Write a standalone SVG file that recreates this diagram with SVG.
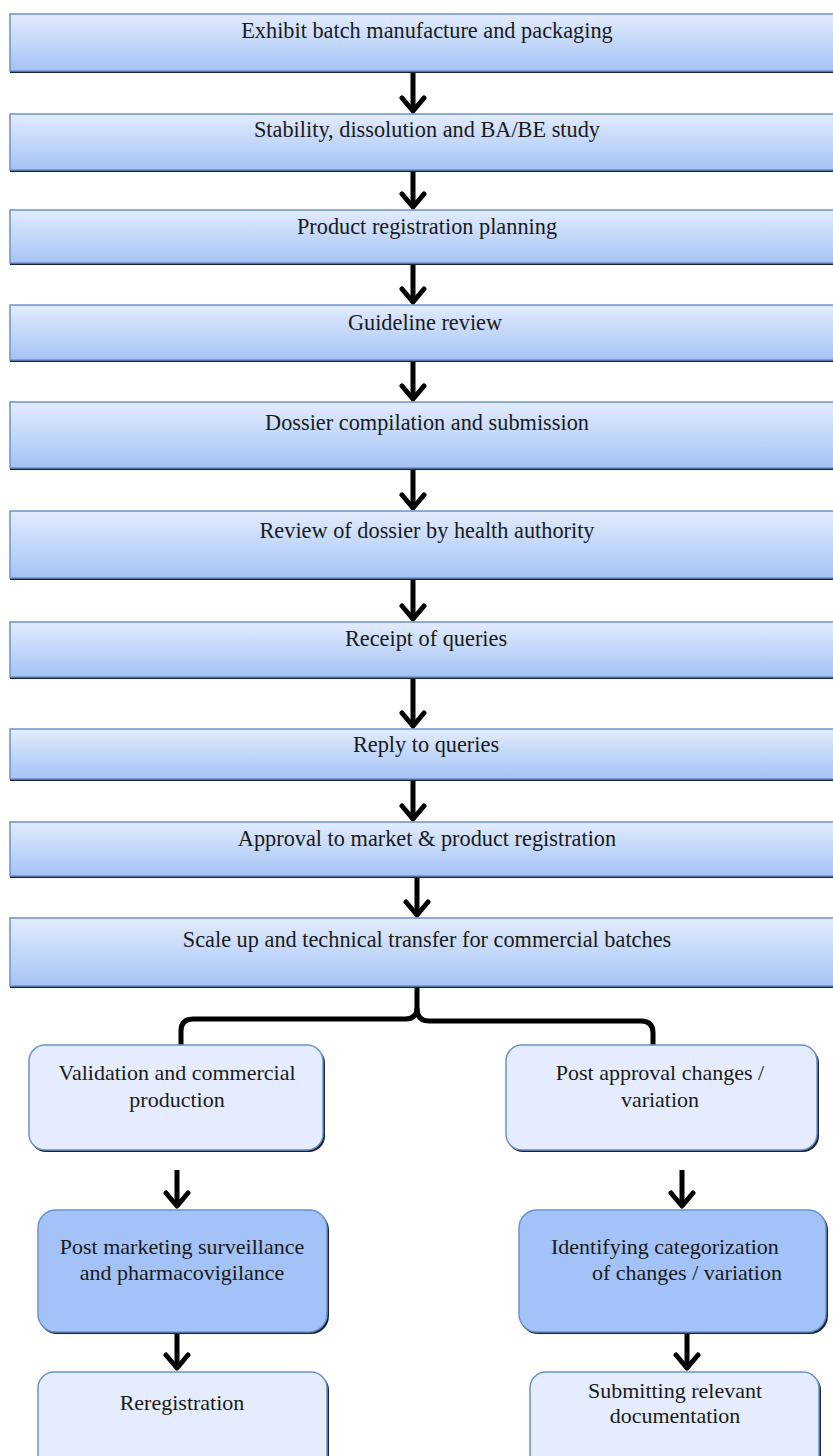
<svg xmlns="http://www.w3.org/2000/svg" width="833" height="1456" viewBox="0 0 833 1456">
  <defs>
    <linearGradient id="bandFill" x1="0" y1="0" x2="0" y2="1">
      <stop offset="0" stop-color="#e2ecfd"/>
      <stop offset="1" stop-color="#a5c3f6"/>
    </linearGradient>
    <!-- chevron head drawn along +x, rotated to follow each line -->
    <marker id="head" viewBox="0 0 20 28" refX="16" refY="14" markerWidth="20" markerHeight="28" markerUnits="userSpaceOnUse" orient="auto">
      <path d="M3,3 L16,14 L3,25" fill="none" stroke="#000" stroke-width="5" stroke-linecap="round" stroke-linejoin="round"/>
    </marker>
    <style>
      .band { fill: url(#bandFill); stroke: #6a92cc; stroke-width: 1.5; }
      .shadow { fill: #1c2430; }
      .soft { fill: #e4ecfd; stroke: #6a92cc; stroke-width: 1.5; }
      .deep { fill: #a3c2f7; stroke: #6a92cc; stroke-width: 1.5; }
      .t { font-family: "Liberation Serif", "Times New Roman", serif; fill: #1a1a1a; }
      .top { font-size: 22.3px; text-anchor: middle; }
      .low { font-size: 22px; }
      .mid { text-anchor: middle; }
      .arrow { stroke: #000; stroke-width: 5; fill: none; marker-end: url(#head); }
      .brace { stroke: #000; stroke-width: 5; fill: none; stroke-linejoin: round; }
    </style>
  </defs>

  <rect width="833" height="1456" fill="#ffffff"/>

  <!-- connectors -->
  <g id="connectors">
    <line class="arrow" x1="413" y1="72" x2="413" y2="111"/>
    <line class="arrow" x1="413" y1="171" x2="413" y2="207"/>
    <line class="arrow" x1="413" y1="264" x2="413" y2="302"/>
    <line class="arrow" x1="413" y1="361" x2="413" y2="399"/>
    <line class="arrow" x1="413" y1="469" x2="413" y2="508"/>
    <line class="arrow" x1="413" y1="579" x2="413" y2="619"/>
    <line class="arrow" x1="413" y1="678" x2="413" y2="726"/>
    <line class="arrow" x1="413" y1="780" x2="413" y2="819"/>
    <line class="arrow" x1="417" y1="877" x2="417" y2="915"/>
    <path class="brace" d="M417,987 V1008 Q417,1019 405,1019 H193 Q181,1019 181,1031 V1045"/>
    <path class="brace" d="M417,1008 Q417,1021 429,1021 H641 Q653,1021 653,1033 V1045"/>
    <line class="arrow" x1="177" y1="1170" x2="177" y2="1206"/>
    <line class="arrow" x1="682" y1="1170" x2="682" y2="1206"/>
    <line class="arrow" x1="177" y1="1333" x2="177" y2="1368"/>
    <line class="arrow" x1="687" y1="1333" x2="687" y2="1368"/>
  </g>

  <!-- full-width stage bands -->
  <g id="n1">
    <rect class="shadow" x="10" y="16" width="830" height="57"/>
    <rect class="band" x="10" y="14" width="830" height="57"/>
    <text class="t top" x="427" y="38">Exhibit batch manufacture and packaging</text>
  </g>
  <g id="n2">
    <rect class="shadow" x="10" y="116" width="830" height="56"/>
    <rect class="band" x="10" y="114" width="830" height="56"/>
    <text class="t top" x="427" y="137">Stability, dissolution and BA/BE study</text>
  </g>
  <g id="n3">
    <rect class="shadow" x="10" y="212" width="830" height="53"/>
    <rect class="band" x="10" y="210" width="830" height="53"/>
    <text class="t top" x="427" y="234">Product registration planning</text>
  </g>
  <g id="n4">
    <rect class="shadow" x="10" y="307" width="830" height="55"/>
    <rect class="band" x="10" y="305" width="830" height="55"/>
    <text class="t top" x="425" y="330">Guideline review</text>
  </g>
  <g id="n5">
    <rect class="shadow" x="10" y="404" width="830" height="66"/>
    <rect class="band" x="10" y="402" width="830" height="66"/>
    <text class="t top" x="427" y="430">Dossier compilation and submission</text>
  </g>
  <g id="n6">
    <rect class="shadow" x="10" y="513" width="830" height="67"/>
    <rect class="band" x="10" y="511" width="830" height="67"/>
    <text class="t top" x="427" y="538">Review of dossier by health authority</text>
  </g>
  <g id="n7">
    <rect class="shadow" x="10" y="624" width="830" height="55"/>
    <rect class="band" x="10" y="622" width="830" height="55"/>
    <text class="t top" x="426" y="646">Receipt of queries</text>
  </g>
  <g id="n8">
    <rect class="shadow" x="10" y="731" width="830" height="50"/>
    <rect class="band" x="10" y="729" width="830" height="50"/>
    <text class="t top" x="426" y="752">Reply to queries</text>
  </g>
  <g id="n9">
    <rect class="shadow" x="10" y="824" width="830" height="54"/>
    <rect class="band" x="10" y="822" width="830" height="54"/>
    <text class="t top" x="427" y="846">Approval to market &amp; product registration</text>
  </g>
  <g id="n10">
    <rect class="shadow" x="10" y="920" width="830" height="68"/>
    <rect class="band" x="10" y="918" width="830" height="68"/>
    <text class="t top" x="427" y="947">Scale up and technical transfer for commercial batches</text>
  </g>

  <!-- left branch -->
  <g id="n11">
    <rect class="shadow" x="30" y="1047" width="295" height="105" rx="16"/>
    <rect class="soft" x="29" y="1045" width="294" height="105" rx="16"/>
    <text class="t low mid" x="177" y="1080">Validation and commercial</text>
    <text class="t low mid" x="177" y="1107">production</text>
  </g>
  <g id="n12">
    <rect class="shadow" x="39" y="1212" width="290" height="122" rx="18"/>
    <rect class="deep" x="38" y="1210" width="289" height="122" rx="18"/>
    <text class="t low mid" x="182" y="1254">Post marketing surveillance</text>
    <text class="t low mid" x="182" y="1280">and pharmacovigilance</text>
  </g>
  <g id="n13">
    <rect class="shadow" x="39" y="1374" width="290" height="100" rx="16"/>
    <rect class="soft" x="38" y="1372" width="289" height="100" rx="16"/>
    <text class="t low mid" x="182" y="1410">Reregistration</text>
  </g>

  <!-- right branch -->
  <g id="n14">
    <rect class="shadow" x="507" y="1047" width="312" height="105" rx="16"/>
    <rect class="soft" x="506" y="1045" width="311" height="105" rx="16"/>
    <text class="t low mid" x="660" y="1080">Post approval changes /</text>
    <text class="t low mid" x="660" y="1107">variation</text>
  </g>
  <g id="n15">
    <rect class="shadow" x="520" y="1212" width="308" height="122" rx="18"/>
    <rect class="deep" x="519" y="1210" width="307" height="122" rx="18"/>
    <text class="t low" x="551" y="1254">Identifying categorization</text>
    <text class="t low" x="592" y="1280">of changes / variation</text>
  </g>
  <g id="n16">
    <rect class="shadow" x="531" y="1374" width="290" height="100" rx="16"/>
    <rect class="soft" x="530" y="1372" width="289" height="100" rx="16"/>
    <text class="t low mid" x="675" y="1398">Submitting relevant</text>
    <text class="t low mid" x="675" y="1423">documentation</text>
  </g>
</svg>
